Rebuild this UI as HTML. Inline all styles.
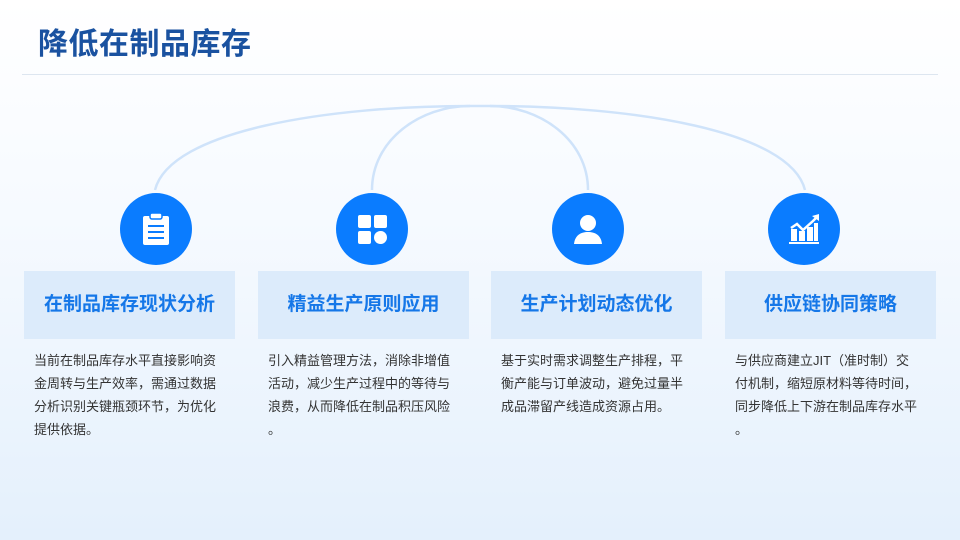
<!DOCTYPE html>
<html><head><meta charset="utf-8"><style>
*{margin:0;padding:0;box-sizing:border-box}
body{width:960px;height:540px;overflow:hidden;position:relative;background:linear-gradient(#ffffff 0%,#f6faff 40%,#e4f0fc 100%);font-family:"Liberation Sans","Noto Sans CJK SC",sans-serif}
.t{position:absolute;left:38px;top:19px;font-size:30px;font-weight:bold;color:#1a52a0;letter-spacing:0.5px}
.hl{position:absolute;left:22px;top:74px;width:916px;height:1px;background:#dde6f0}
.c{position:absolute;width:72px;height:72px;border-radius:50%;background:#0a7cff;top:193px}
.c svg{position:absolute;left:18px;top:18px}
.b{position:absolute;top:271px;width:211px;height:68px;background:#dcebfb;color:#1577e8;font-size:19px;font-weight:bold;text-align:center;line-height:68px}
.p{position:absolute;top:349px;width:230px;font-size:13px;line-height:23px;color:#333;white-space:nowrap}
</style></head><body>
<div class="t">降低在制品库存</div>
<div class="hl"></div>
<svg width="960" height="540" style="position:absolute;left:0;top:0">
<g fill="none" stroke="#cfe3fa" stroke-width="2.5">
<path d="M155 190 C170 130 330 106 470 106 L490 106 C630 106 790 130 805 190"/>
<path d="M372 190 C372 140 420 106 470 106"/>
<path d="M588 190 C588 140 540 106 490 106"/>
</g></svg>
<div class="c" style="left:120px"><svg width="36" height="36" viewBox="0 0 36 36"><rect x="5" y="5" width="26" height="29" rx="2" fill="#fff"/><rect x="12" y="2" width="12" height="6" rx="2" fill="#fff" stroke="#0a7cff" stroke-width="1.5"/><g stroke="#0a7cff" stroke-width="2"><line x1="10" y1="15" x2="26" y2="15"/><line x1="10" y1="21" x2="26" y2="21"/><line x1="10" y1="27" x2="26" y2="27"/></g></svg></div>
<div class="c" style="left:336px"><svg width="36" height="36" viewBox="0 0 36 36"><rect x="4" y="4" width="13" height="13" rx="2" fill="#fff"/><rect x="20" y="4" width="13" height="13" rx="2" fill="#fff"/><rect x="4" y="20" width="13" height="13" rx="2" fill="#fff"/><circle cx="26.5" cy="26.5" r="6.5" fill="#fff"/></svg></div>
<div class="c" style="left:552px"><svg width="36" height="36" viewBox="0 0 36 36"><circle cx="18" cy="12" r="8" fill="#fff"/><path d="M4 33 C5 24 11 21 18 21 C25 21 31 24 32 33Z" fill="#fff"/></svg></div>
<div class="c" style="left:768px"><svg width="36" height="36" viewBox="0 0 36 36"><g fill="#fff"><rect x="5" y="18" width="6" height="12"/><rect x="13" y="20" width="6" height="10"/><rect x="21" y="16" width="6" height="14"/><rect x="28" y="12" width="4" height="18"/><rect x="3" y="31" width="30" height="2"/></g><polyline points="5,17 11,13 17,19 27,10 31,6" fill="none" stroke="#fff" stroke-width="2.5"/><polygon points="33,3 33,10 26,5" fill="#fff"/></svg></div>
<div class="b" style="left:24px">在制品库存现状分析</div>
<div class="b" style="left:258px">精益生产原则应用</div>
<div class="b" style="left:491px">生产计划动态优化</div>
<div class="b" style="left:725px">供应链协同策略</div>
<div class="p" style="left:34px">当前在制品库存水平直接影响资<br>金周转与生产效率，需通过数据<br>分析识别关键瓶颈环节，为优化<br>提供依据。</div>
<div class="p" style="left:268px">引入精益管理方法，消除非增值<br>活动，减少生产过程中的等待与<br>浪费，从而降低在制品积压风险<br>。</div>
<div class="p" style="left:501px">基于实时需求调整生产排程，平<br>衡产能与订单波动，避免过量半<br>成品滞留产线造成资源占用。</div>
<div class="p" style="left:735px">与供应商建立JIT（准时制）交<br>付机制，缩短原材料等待时间，<br>同步降低上下游在制品库存水平<br>。</div>
</body></html>
